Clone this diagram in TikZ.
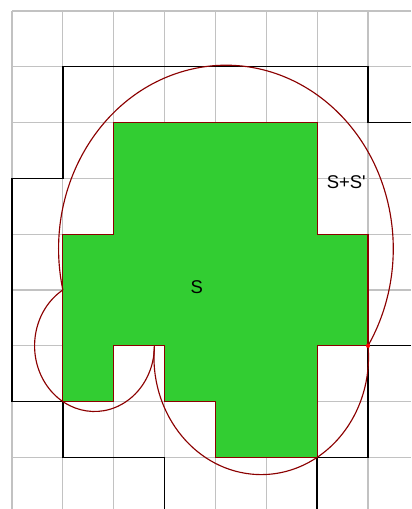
\documentclass[tikz,border=0pt]{standalone}
\usepackage{fontspec}
\setmainfont{Liberation Sans}
\usepackage{xcolor}
\usetikzlibrary{positioning}
\definecolor{limeS}{RGB}{50,205,50}
\definecolor{maroonC}{RGB}{139,0,0}

\begin{document}
\begin{tikzpicture}[
  xscale=1.0172, yscale=1.1158,
  gridline/.style={draw=black!24, line width=0.65pt},
  outer/.style   ={draw=black, line width=0.8pt},
  setS/.style    ={fill=limeS, draw=maroonC, line width=0.7pt},
  disk/.style    ={draw=maroonC, line width=0.65pt},
  lbl/.style     ={font=\fontsize{10.5}{12}\selectfont, inner sep=0pt}
]
\useasboundingbox (-0.236,0.197) rectangle (7.845,-8.926);
% grid
\foreach \i in {0,...,7} \draw[gridline] (\i,0) -- (\i,-8.926);
\foreach \j in {0,...,8} \draw[gridline] (0,-\j) -- (7.845,-\j);

% S+S' boundary
\draw[outer] (7.845,-2) -- (7,-2) -- (7,-1) -- (1,-1) -- (1,-3) -- (0,-3)
  -- (0,-7) -- (1,-7) -- (1,-8) -- (3,-8) -- (3,-8.926);
\draw[outer] (7.845,-6) -- (7,-6) -- (7,-8) -- (6,-8) -- (6,-8.926);

% the set S
\draw[setS] (2,-2) -- (6,-2) -- (6,-4) -- (7,-4) -- (7,-6) -- (6,-6)
  -- (6,-8) -- (4,-8) -- (4,-7) -- (3,-7) -- (3,-6) -- (2,-6) -- (2,-7)
  -- (1,-7) -- (1,-4) -- (2,-4) -- cycle;

% arcs
\draw[disk] (1,-5) arc[start angle=192.96, end angle=-31.88, radius=3.29];
\draw[disk] (1,-5) arc[start angle=121.88, end angle=360, radius=1.178];
\draw[disk] (2.8,-6) arc[start angle=174.56, end angle=365.44, radius=2.1095];
\fill[red] (7,-6) circle[radius=0.04];

\node[lbl] (labS)  at (3.635,-4.95) {S};
\node[lbl] (labSS) at (6.572,-3.065) {S+S\textquotesingle};
\end{tikzpicture}
\end{document}
